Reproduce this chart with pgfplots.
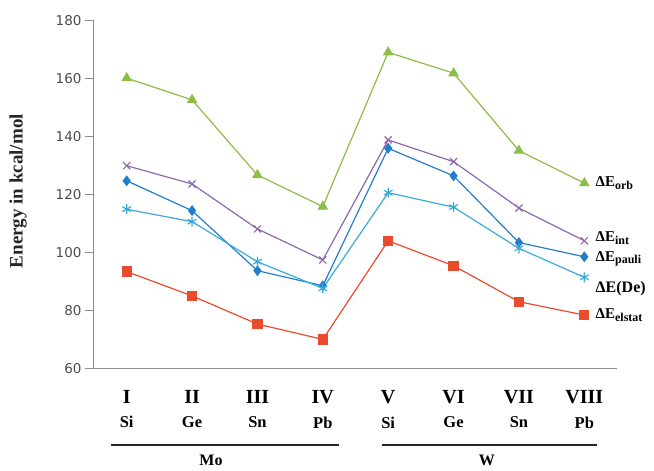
\documentclass[border=0pt]{standalone}
\usepackage{fontspec}
\setmainfont{Liberation Serif}
\newfontfamily\tickfont{DejaVu Sans}
\usepackage{pgfplots}
\pgfplotsset{compat=1.18}
\definecolor{corb}{RGB}{140,190,70}
\definecolor{cint}{RGB}{140,105,175}
\definecolor{cpauli}{RGB}{35,125,205}
\definecolor{cde}{RGB}{60,170,215}
\definecolor{cel}{RGB}{232,76,45}
\definecolor{axgray}{RGB}{140,140,140}
\newcommand\lab[2]{\shortstack{\fontsize{20}{21}\selectfont #1\\[10pt]\fontsize{16.5}{17}\selectfont #2}}
\newcommand\sub[1]{\raisebox{-0.35ex}{\fontsize{12}{12}\selectfont #1}}
\begin{document}
\begin{tikzpicture}
\path[use as bounding box] (-94pt,-102pt) rectangle (560pt,369pt);
\begin{axis}[
  at={(0pt,0pt)}, anchor=south west,
  scale only axis, width=523pt, height=348pt,
  xmin=0.5, xmax=8.5, ymin=60, ymax=180,
  ytick={60,80,...,180},
  xtick={1,...,8},
  xticklabels={{\lab{I}{Si}},{\lab{II}{Ge}},{\lab{III}{Sn}},{\lab{IV}{Pb}},{\lab{V}{Si}},{\lab{VI}{Ge}},{\lab{VII}{Sn}},{\lab{VIII}{Pb}}},
  xticklabel style={font=\bfseries, inner sep=0pt, anchor=north, yshift=-12pt},
  axis x line*=bottom, axis y line*=left,
  axis line style={draw=axgray, line width=1pt},
  tick align=outside, major tick length=9pt,
  ytick style={draw=axgray, line width=1pt},
  xtick style={draw=none},
  /pgf/number format/assume math mode=true,
  yticklabel style={font=\tickfont\fontsize{13.5}{14}\selectfont, text=black!70},
  ylabel={Energy in kcal/mol},
  ylabel style={font=\bfseries\fontsize{19}{19}\selectfont, text=black!85, at={(axis description cs:-0.145,0.511)}, anchor=center},
  clip=false,
  every axis plot/.append style={line width=1.2pt},
]
\addplot[color=corb, mark=triangle*, mark size=5pt, mark options={fill=corb}] coordinates {(1,160.3)(2,152.8)(3,126.9)(4,116)(5,169.2)(6,162)(7,135.3)(8,124.1)};
\addplot[color=cint, mark=x, mark size=5pt] coordinates {(1,130.1)(2,123.8)(3,108.3)(4,97.6)(5,139)(6,131.5)(7,115.5)(8,104.2)};
\addplot[color=cpauli, mark=diamond*, mark size=4.5pt, mark options={fill=cpauli}] coordinates {(1,124.9)(2,114.6)(3,93.9)(4,88.7)(5,136.1)(6,126.6)(7,103.6)(8,98.7)};
\addplot[color=cde, mark=asterisk, mark size=5pt] coordinates {(1,115.1)(2,110.8)(3,97)(4,87.8)(5,120.8)(6,115.8)(7,101.6)(8,91.6)};
\addplot[color=cel, mark=square*, mark size=4.5pt, mark options={fill=cel}] coordinates {(1,93.6)(2,85.2)(3,75.5)(4,70.2)(5,104.2)(6,95.6)(7,83.2)(8,78.6)};
\node[anchor=west, font=\bfseries\fontsize{15}{15}\selectfont] at (axis cs:8.12,124.1) {ΔE\sub{orb}};
\node[anchor=west, font=\bfseries\fontsize{15}{15}\selectfont] at (axis cs:8.12,105.2) {ΔE\sub{int}};
\node[anchor=west, font=\bfseries\fontsize{15}{15}\selectfont] at (axis cs:8.12,97.9) {ΔE\sub{pauli}};
\node[anchor=west, font=\bfseries\fontsize{16}{16}\selectfont] at (axis cs:8.12,87.6) {ΔE(De)};
\node[anchor=west, font=\bfseries\fontsize{15}{15}\selectfont] at (axis cs:8.12,78.6) {ΔE\sub{elstat}};
\draw[line width=1.6pt, black!85] (axis cs:0.754,33.8) -- (axis cs:4.255,33.8);
\draw[line width=1.6pt, black!85] (axis cs:4.90,33.8) -- (axis cs:8.20,33.8);
\node[font=\bfseries\fontsize{16}{16}\selectfont] at (axis cs:2.29,28.6) {Mo};
\node[font=\bfseries\fontsize{16}{16}\selectfont] at (axis cs:6.51,28.6) {W};
\end{axis}
\end{tikzpicture}
\end{document}
